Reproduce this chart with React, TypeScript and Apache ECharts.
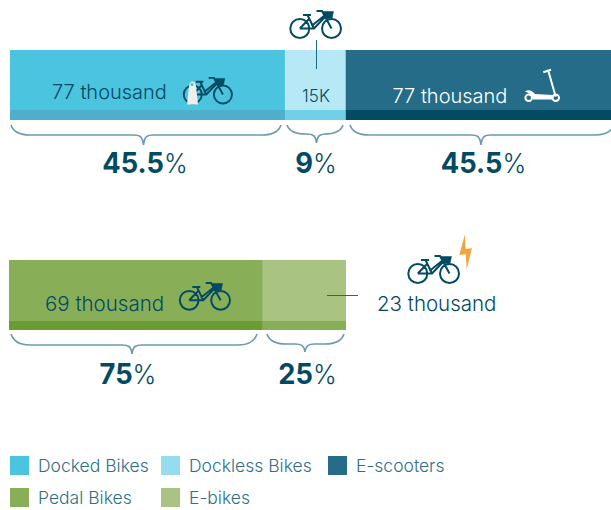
import React, { useEffect, useRef } from "react";
import * as echarts from "echarts";

// Data
const micromobilityNames = ["Docked Bikes", "Dockless Bikes", "E-scooters"];
const micromobilityValues = [77, 17, 77]; // thousand (bar widths as drawn)
const bikeNames = ["Pedal Bikes", "E-bikes"];
const bikeValues = [69, 23]; // thousand
const topLabels = ["77 thousand", "15K", "77 thousand"];
const topShares = ["45.5", "9", "45.5"];
const bottomLabels = ["69 thousand", "23 thousand"];
const bottomShares = ["75", "25"];

const topColors = ["#4bc4e0", "#b7e8f5", "#246c87"];
const topStrips = ["#4fafca", "#6fd0e8", "#044a63"];
const bottomColors = ["#88ae57", "#a8c382"];
const bottomStrips = ["#6a9c32", "#88ae57"];
const legendColors = ["#4bc4e0", "#94dcee", "#246c87", "#88ae57", "#a8c382"];

const INK = "#034a63";
const FONT = "Inter, 'Noto Sans', sans-serif";

const BIKE_D =
  "M19.8 19.5A9.5 9.5 0 1 1 0.8 19.5A9.5 9.5 0 1 1 19.8 19.5Z" +
  "M51.5 19.5A9.5 9.5 0 1 1 32.5 19.5A9.5 9.5 0 1 1 51.5 19.5Z" +
  "M13.5 6L21.5 6M18 6L24.5 19.5M10.3 19.5L24.5 19.5L35.5 8M10.3 19.5L19.5 10" +
  "M27 2L32.5 2L42 19.5M22 17L35 6.5";
const BASKET_D = "M33.5 2.5L44 2.5L42.5 9.5L35.5 9.5Z";
const POST_D = "M0 23.5L2 5C2.5 -1 8.5 -1 9 5L11 23.5Z";
const SCOOTER_D =
  "M548.3 70.7L555.7 96.7M543.3 72.3L551 69.8" +
  "M532 97.7A3.3 3.3 0 1 1 525.4 97.7A3.3 3.3 0 1 1 532 97.7Z" +
  "M559 97.7A3.3 3.3 0 1 1 552.4 97.7A3.3 3.3 0 1 1 559 97.7Z";
const DECK_D = "M525 92C527 89 532 90 535 94L553 95L553.5 99.5L533 99.5C532 94 528 92 525 92Z";
const BOLT_D = "M465 234.3L459.3 255L465.7 254.3L466.7 269.3L472 248.3L465.7 249Z";

const braceD = (x0: number, x1: number, tip: number, y0: number, yMid: number, yTip: number) => {
  const r = Math.min(14, (tip - x0) * 0.55);
  return (
    `M${x0} ${y0}C${x0 + 2} ${y0 + 6} ${x0 + 8} ${yMid} ${x0 + r + 5} ${yMid}` +
    `L${tip - r * 0.7} ${yMid}C${tip - 4} ${yMid} ${tip - 1} ${yMid + 1} ${tip} ${yTip}` +
    `C${tip + 1} ${yMid + 1} ${tip + 4} ${yMid} ${tip + r * 0.7} ${yMid}` +
    `L${x1 - r - 5} ${yMid}C${x1 - 8} ${yMid} ${x1 - 2} ${y0 + 6} ${x1} ${y0}`
  );
};
const BRACES: number[][] = [
  [11, 281, 143.5, 125, 135, 145],
  [287, 343, 316.5, 125, 134, 143],
  [350, 614, 481, 125, 135, 145],
  [11, 257, 132, 334, 345, 354],
  [267, 344, 305, 334, 344, 352],
];

echarts.graphic.registerShape("bike", echarts.graphic.extendPath(BIKE_D, {}));
echarts.graphic.registerShape("basket", echarts.graphic.extendPath(BASKET_D, {}));
echarts.graphic.registerShape("post", echarts.graphic.extendPath(POST_D, {}));
echarts.graphic.registerShape("scooter", echarts.graphic.extendPath(SCOOTER_D, {}));
echarts.graphic.registerShape("deck", echarts.graphic.extendPath(DECK_D, {}));
echarts.graphic.registerShape("bolt", echarts.graphic.extendPath(BOLT_D, {}));
BRACES.forEach((b, i) => {
  echarts.graphic.registerShape(
    "brace" + i,
    echarts.graphic.extendPath(braceD(b[0], b[1], b[2], b[3], b[4], b[5]), {})
  );
});

const bike = (x: number, y: number, s: number) => [
  { type: "bike", x, y, scaleX: s, scaleY: s, style: { fill: "none", stroke: INK, lineWidth: 2 } },
  { type: "basket", x, y, scaleX: s, scaleY: s, style: { fill: INK, stroke: INK, lineWidth: 0.5 } },
];
const text = (
  t: string,
  x: number,
  y: number,
  size: number,
  color = INK,
  align = "left",
  weight = 300
) => ({
  type: "text",
  x,
  y,
  style: {
    text: t,
    fill: color,
    fontFamily: FONT,
    fontSize: size,
    fontWeight: weight,
    align,
    verticalAlign: "middle",
  },
});
const share = (v: string, x: number, y: number) => ({
  type: "text",
  x,
  y,
  scaleX: 0.94,
  style: {
    text: `{b|${v}}{l|%}`,
    align: "center",
    verticalAlign: "middle",
    rich: {
      b: { fontFamily: FONT, fontSize: 29, fontWeight: 700, fill: INK, color: INK },
      l: { fontFamily: FONT, fontSize: 27, fontWeight: 300, fill: INK, color: INK },
    },
  },
});

const stackSeries = (
  names: string[],
  values: number[],
  colors: string[],
  grid: number,
  stack: string
) =>
  values.map((v, i) => ({
    type: "bar",
    name: names[i],
    stack,
    xAxisIndex: grid,
    yAxisIndex: grid,
    barWidth: "100%",
    silent: true,
    itemStyle: { color: colors[i] },
    data: [v],
  }));

const GRIDS = [
  { left: 10, top: 50, width: 601, height: 60 },
  { left: 10, top: 110, width: 601, height: 10 },
  { left: 9, top: 260, width: 337, height: 61 },
  { left: 9, top: 321, width: 337, height: 9 },
];
const TOP_MAX = 168.3;
const BOTTOM_MAX = 91.6;
const MAXES = [TOP_MAX, TOP_MAX, BOTTOM_MAX, BOTTOM_MAX];

const LEGEND_POS: number[][] = [
  [10, 456],
  [161, 456],
  [328, 456],
  [10, 488],
  [161, 488],
];

export default function App() {
  const ref = useRef<HTMLDivElement>(null);
  useEffect(() => {
    document.body.style.margin = "0";
    const chart = echarts.init(ref.current!, null, { renderer: "svg" });
    const allNames = [...micromobilityNames, ...bikeNames];
    const elements: any[] = [
      ...bike(289.5, 9, 1),
      { type: "line", shape: { x1: 316.5, y1: 40, x2: 316.5, y2: 69 }, style: { stroke: "#1f6b84", lineWidth: 1 } },
      ...bike(183, 76, 0.95),
      { type: "post", x: 187, y: 81, style: { fill: "#eeeeea" } },
      { type: "circle", shape: { cx: 192, cy: 84.5, r: 1.6 }, style: { fill: "#4bc4e0" } },
      { type: "scooter", style: { fill: "none", stroke: "#ffffff", lineWidth: 2 } },
      { type: "deck", style: { fill: "#ffffff" } },
      ...bike(179, 281, 0.99),
      ...bike(407.5, 254, 1),
      { type: "bolt", style: { fill: "#f0a640" } },
      { type: "line", shape: { x1: 327, y1: 295.5, x2: 358, y2: 295.5 }, style: { stroke: "#1f6b84", lineWidth: 1 } },
      ...BRACES.map((_, i) => ({
        type: "brace" + i,
        style: { fill: "none", stroke: "#6a9bb2", lineWidth: 1.6 },
      })),
      text(topLabels[0], 52, 92, 20),
      text(topLabels[1], 316, 96, 17, INK, "center"),
      text(topLabels[2], 392.5, 96, 20, "#ffffff"),
      text(bottomLabels[0], 45, 303, 20.5),
      text(bottomLabels[1], 377, 303, 20.5),
      share(topShares[0], 145, 163),
      share(topShares[1], 316, 163),
      share(topShares[2], 483.5, 163),
      share(bottomShares[0], 128, 374),
      share(bottomShares[1], 307.5, 374),
    ].map((e) => ({ ...e, z: 100 }));
    chart.setOption({
      animation: false,
      grid: GRIDS.map((g) => ({ ...g, containLabel: false })),
      xAxis: MAXES.map((m, i) => ({ type: "value", gridIndex: i, min: 0, max: m, show: false })),
      yAxis: MAXES.map((_, i) => ({
        type: "category",
        gridIndex: i,
        data: ["share"],
        show: false,
      })),
      legend: allNames.map((n, i) => ({
        data: [{ name: n, itemStyle: { color: legendColors[i] } }],
        left: LEGEND_POS[i][0],
        top: LEGEND_POS[i][1],
        padding: 0,
        itemWidth: 19,
        itemHeight: 19,
        itemGap: 0,
        selectedMode: false,
        icon: "rect",
        textStyle: { color: "#2f6f88", fontFamily: FONT, fontSize: 17.5, fontWeight: 300, padding: [2, 0, 0, 4] },
      })),
      series: [
        ...stackSeries(micromobilityNames, micromobilityValues, topColors, 0, "a"),
        ...stackSeries(micromobilityNames.map((n) => n + " strip"), micromobilityValues, topStrips, 1, "b"),
        ...stackSeries(bikeNames, bikeValues, bottomColors, 2, "c"),
        ...stackSeries(bikeNames.map((n) => n + " strip"), bikeValues, bottomStrips, 3, "d"),
      ],
      graphic: { elements },
    });
    return () => chart.dispose();
  }, []);
  return <div ref={ref} style={{ position: "absolute", left: 0, top: 0, width: 611, height: 510 }} />;
}
